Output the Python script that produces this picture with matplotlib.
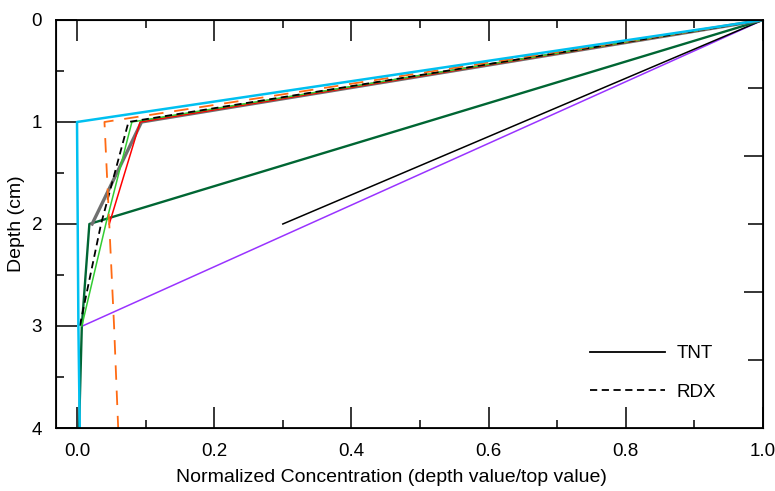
import matplotlib
matplotlib.use("Agg")
import matplotlib.pyplot as plt
from matplotlib.lines import Line2D

plt.rcParams['font.family'] = ['Liberation Sans', 'DejaVu Sans']

# depth profiles, normalized concentration vs depth (cm)
cyan_x = [1.0, 0.0, 0.001, 0.002, 0.004]
cyan_d = [0, 1, 2, 3, 4]
orange_x = [1.0, 0.04, 0.047, 0.054, 0.06]
orange_d = [0, 1, 2, 3, 4]
rdx_x = [1.0, 0.075, 0.035, 0.004]
rdx_d = [0, 1, 2, 3]
green_x = [1.0, 0.08, 0.042, 0.007]
green_d = [0, 1, 2, 3]
red_x = [1.0, 0.092, 0.047]
red_d = [0, 1, 2]
gray_x = [1.0, 0.094, 0.022]
gray_d = [0, 1, 2]
dkgreen_x = [1.0, 0.018, 0.007, 0.003]
dkgreen_d = [0, 2, 3, 4]
tnt_x = [1.0, 0.3]
tnt_d = [0, 2]
purple_x = [1.0, 0.008]
purple_d = [0, 3]

xticks = [0.0, 0.2, 0.4, 0.6, 0.8, 1.0]
yticks = [0, 1, 2, 3, 4]

fig = plt.figure(figsize=(7.75, 4.91), dpi=100)
ax = fig.add_axes([0.0723, 0.1283, 0.9122, 0.831])

ax.plot(purple_x, purple_d, color='#9933ff', lw=1.1)
ax.plot(tnt_x, tnt_d, color='black', lw=1.1)
ax.plot(dkgreen_x, dkgreen_d, color='#006633', lw=1.7)
ax.plot(gray_x, gray_d, color='#707070', lw=2.4)
ax.plot(red_x, red_d, color='#ff0000', lw=1.1)
ax.plot(green_x, green_d, color='#33cc33', lw=1.1)
ax.plot(rdx_x, rdx_d, color='black', lw=1.3, ls=(0, (4, 2.5)))
ax.plot(orange_x, orange_d, color='#ff6a13', lw=1.3, ls=(0, (8, 6)))
ax.plot(cyan_x, cyan_d, color='#00c0f0', lw=1.8)

ax.set_xlim(-0.0306, 1.0)
ax.set_ylim(4, 0)
ax.set_xticks(xticks)
ax.set_xticklabels(['%.1f' % v for v in xticks])
ax.set_xticks([0.1, 0.3, 0.5, 0.7, 0.9], minor=True)
ax.set_yticks(yticks)
ax.set_yticks([0.5, 1.5, 2.5, 3.5], minor=True)
ax.tick_params(which='major', direction='in', length=15, width=1.1,
               top=True, right=False, labelsize=13.5)
ax.tick_params(axis='x', which='major', pad=11)
ax.tick_params(axis='y', which='major', pad=10)
ax.tick_params(which='minor', direction='in', length=5.5, width=1.1,
               top=True, right=False)
for s in ax.spines.values():
    s.set_linewidth(1.3)

# right side ticks
ax2 = ax.twinx()
ax2.set_ylim(4, 0)
ax2.set_yticks([4 / 3, 8 / 3])
ax2.set_yticks([2 / 3, 2, 10 / 3], minor=True)
ax2.tick_params(which='major', direction='in', length=14, width=1.1, labelright=False)
ax2.tick_params(which='minor', direction='in', length=11, width=1.1, labelright=False)

ax.set_xlabel('Normalized Concentration (depth value/top value)', fontsize=14)
ax.xaxis.set_label_coords(0.475, -0.1)
ax.set_ylabel('Depth (cm)', fontsize=14, labelpad=5)

handles = [Line2D([], [], color='black', lw=1.3),
           Line2D([], [], color='black', lw=1.3, ls=(0, (4, 2.5)))]
ax.legend(handles, ['TNT', 'RDX'], frameon=False, fontsize=13.5,
          handlelength=4.0, handletextpad=0.6, labelspacing=1.15,
          borderpad=0, borderaxespad=0,
          loc='upper left', bbox_to_anchor=(0.7553, 0.2034))

fig.savefig('out.png', dpi=100)
